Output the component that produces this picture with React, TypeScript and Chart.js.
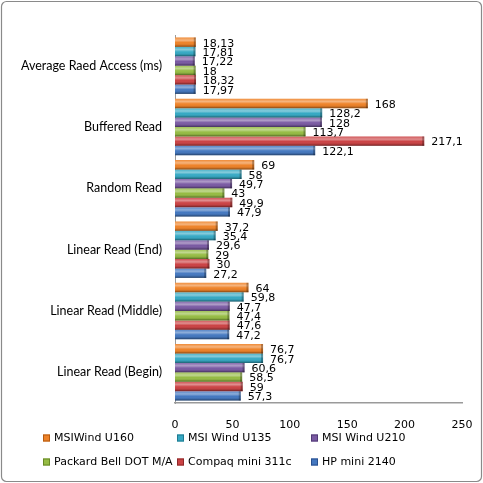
import React, { useEffect, useRef } from "react";
import { Chart, registerables } from "chart.js";

Chart.register(...registerables);

const categories = [
  "Average Raed Access (ms)",
  "Buffered Read",
  "Random Read",
  "Linear Read (End)",
  "Linear Read (Middle)",
  "Linear Read (Begin)",
];

const seriesNames = [
  "MSIWind U160",
  "MSI Wind U135",
  "MSI Wind U210",
  "Packard Bell DOT M/A",
  "Compaq mini 311c",
  "HP mini 2140",
];

const msiU160 = [18.13, 168, 69, 37.2, 64, 76.7];
const msiU135 = [17.81, 128.2, 58, 35.4, 59.8, 76.7];
const msiU210 = [17.22, 128, 49.7, 29.6, 47.7, 60.6];
const packardBell = [18, 113.7, 43, 29, 47.4, 58.5];
const compaq = [18.32, 217.1, 49.9, 30, 47.6, 59];
const hpMini = [17.97, 122.1, 47.9, 27.2, 47.2, 57.3];

const seriesValues = [msiU160, msiU135, msiU210, packardBell, compaq, hpMini];

const seriesColors = ["#EE8228", "#36A9C4", "#7A5AA3", "#96BC44", "#CB4244", "#4478C0"];
const seriesBorders = ["#B45A10", "#1F7A90", "#513975", "#678826", "#8C2829", "#284F8E"];

const xMin = 0;
const xMax = 250;
const xStep = 50;

const fmt = (v: number) => String(v).replace(".", ",");

const TICK_FONT = "'DejaVu Sans', sans-serif";
const CAT_FONT = "Lato, 'Open Sans', sans-serif";

const framePlugin = {
  id: "frame",
  beforeDraw(chart: any) {
    const { ctx, width, height } = chart;
    ctx.save();
    ctx.fillStyle = "#ffffff";
    ctx.fillRect(0, 0, width, height);
    ctx.strokeStyle = "#8a8a8a";
    ctx.lineWidth = 1.2;
    ctx.beginPath();
    (ctx as any).roundRect(1.5, 1.5, width - 3, height - 3, 5);
    ctx.stroke();
    ctx.restore();
  },
};

const shadePlugin = {
  id: "shade",
  afterDatasetsDraw(chart: any) {
    const { ctx } = chart;
    ctx.save();
    chart.data.datasets.forEach((ds: any, di: number) => {
      const meta = chart.getDatasetMeta(di);
      meta.data.forEach((bar: any) => {
        const { x, y, base, height } = bar.getProps(["x", "y", "base", "height"], true);
        const top = y - height / 2;
        const left = Math.min(base, x);
        const w = Math.abs(x - base);
        const g = ctx.createLinearGradient(0, top, 0, top + height);
        g.addColorStop(0, "rgba(255,255,255,0.1)");
        g.addColorStop(0.3, "rgba(255,255,255,0.4)");
        g.addColorStop(0.55, "rgba(255,255,255,0.0)");
        g.addColorStop(0.8, "rgba(0,0,0,0.1)");
        g.addColorStop(1, "rgba(0,0,0,0.45)");
        ctx.fillStyle = g;
        ctx.fillRect(left, top, w, height);
        ctx.fillStyle = "rgba(0,0,0,0.28)";
        ctx.fillRect(left + w - 2, top, 2, height);
      });
    });
    ctx.restore();
  },
};

const labelPlugin = {
  id: "valueLabels",
  afterDatasetsDraw(chart: any) {
    const { ctx } = chart;
    ctx.save();
    ctx.font = `11px ${TICK_FONT}`;
    ctx.fillStyle = "#000000";
    ctx.textAlign = "left";
    ctx.textBaseline = "middle";
    chart.data.datasets.forEach((ds: any, di: number) => {
      const meta = chart.getDatasetMeta(di);
      meta.data.forEach((bar: any, i: number) => {
        const { x, y } = bar.getProps(["x", "y"], true);
        ctx.fillText(fmt(ds.data[i]), x + 7, y + 1.5);
      });
    });
    ctx.restore();
  },
};

const legendPlugin = {
  id: "gridLegend",
  afterDraw(chart: any) {
    const { ctx } = chart;
    const cols = [43, 177, 311];
    const rows = [438, 462];
    ctx.save();
    ctx.font = `11px ${TICK_FONT}`;
    ctx.textAlign = "left";
    ctx.textBaseline = "middle";
    chart.data.datasets.forEach((ds: any, di: number) => {
      const cx = cols[di % 3];
      const cy = rows[Math.floor(di / 3)];
      ctx.fillStyle = ds.backgroundColor;
      ctx.fillRect(cx, cy - 3.5, 7, 7);
      ctx.strokeStyle = ds.borderColor;
      ctx.lineWidth = 1;
      ctx.strokeRect(cx + 0.5, cy - 3, 6, 6);
      ctx.fillStyle = "#000000";
      ctx.fillText(ds.label, cx + 11, cy + 0.5);
    });
    ctx.restore();
  },
};

export default function App() {
  const canvasRef = useRef<HTMLCanvasElement | null>(null);

  useEffect(() => {
    document.body.style.margin = "0";
    const canvas = canvasRef.current;
    if (!canvas) return;
    const chart = new Chart(canvas, {
      type: "bar",
      data: {
        labels: categories,
        datasets: seriesNames.map((name, i) => ({
          label: name,
          data: seriesValues[i],
          backgroundColor: seriesColors[i],
          borderColor: seriesBorders[i],
          borderWidth: 0,
          barPercentage: 1,
          categoryPercentage: 0.92,
        })),
      },
      options: {
        indexAxis: "y",
        animation: false,
        responsive: true,
        maintainAspectRatio: false,
        layout: { padding: { top: 35, right: 21, left: 0, bottom: 0 } },
        plugins: {
          legend: { display: false },
          tooltip: { enabled: false },
        },
        scales: {
          x: {
            min: xMin,
            max: xMax,
            grid: { display: false, drawTicks: false },
            border: { display: true, color: "#9a9a9a", width: 1.5 },
            ticks: {
              stepSize: xStep,
              padding: 16,
              color: "#000000",
              font: { family: TICK_FONT, size: 11 },
            },
            afterFit(scale: any) {
              scale.height = 80;
              scale.paddingRight = 0;
              scale.paddingLeft = 0;
            },
          },
          y: {
            grid: { display: false, drawTicks: false },
            border: { display: true, color: "#9a9a9a", width: 1 },
            ticks: {
              padding: 13,
              color: "#000000",
              font: { family: CAT_FONT, size: 12.5 },
            },
            afterFit(scale: any) {
              scale.width = 175;
            },
          },
        },
      },
      plugins: [framePlugin, shadePlugin, labelPlugin, legendPlugin],
    } as any);
    return () => chart.destroy();
  }, []);

  return (
    <div style={{ width: 483, height: 483, position: "relative" }}>
      <canvas ref={canvasRef} />
    </div>
  );
}
